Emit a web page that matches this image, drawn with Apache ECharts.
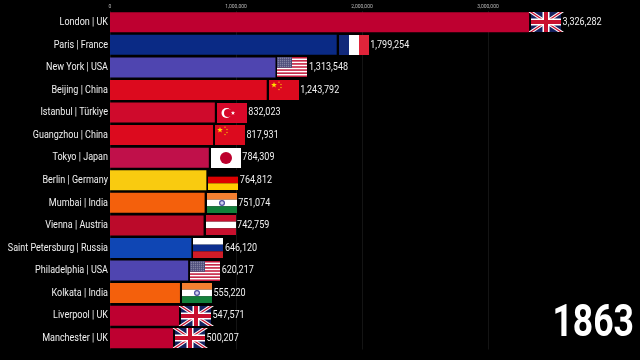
<!DOCTYPE html>
<html><head><meta charset="utf-8">
<style>html,body{margin:0;padding:0;background:#000}#c{width:640px;height:360px}</style>
<script src="https://cdn.jsdelivr.net/npm/echarts@6/dist/echarts.min.js"></script>
</head><body><div id="c"></div>
<script>
const cities = ['London | UK','Paris | France','New York | USA','Beijing | China','Istanbul | Türkiye','Guangzhou | China','Tokyo | Japan','Berlin | Germany','Mumbai | India','Vienna | Austria','Saint Petersburg | Russia','Philadelphia | USA','Kolkata | India','Liverpool | UK','Manchester | UK'];
const values = [3326282,1799254,1313548,1243792,832023,817931,784309,764812,751074,742759,646120,620217,555220,547571,500207];
const flagsOf = ['UK','FR','US','CN','TR','CN','JP','DE','IN','AT','RU','US','IN','UK','UK'];
const barColors = ['#be0030','#0a2a85','#4f45b0','#dc0a1e','#cf0a2c','#dc0a1e','#c0104a','#f9cb10','#f4600c','#bb0a2a','#0f46b4','#4f45b0','#f4600c','#be0030','#be0030'];
const year = '1863';
const tickInterval = 1000000;
const axisMax = 3990000;

const W = 30, H = 20;
const R = (x,y,w,h,fill)=>({type:'rect',shape:{x,y,width:w,height:h},style:{fill}});
const C = (cx,cy,r,fill)=>({type:'circle',shape:{cx,cy,r},style:{fill}});
const P = (points,fill)=>({type:'polygon',shape:{points},style:{fill}});
const star = (cx,cy,r,fill)=>{
  const pts=[];
  for(let i=0;i<10;i++){const a=-Math.PI/2+i*Math.PI/5,q=i%2?r*0.42:r;pts.push([cx+q*Math.cos(a),cy+q*Math.sin(a)]);}
  return P(pts,fill);
};
const hbands = (cols)=>cols.map((c,i)=>R(0,i*H/cols.length,W,H/cols.length,c));
const vbands = (cols)=>cols.map((c,i)=>R(i*W/cols.length,0,W/cols.length,H,c));
function flag(code){
  if(code==='FR') return vbands(['#12297a','#ffffff','#e0243a']);
  if(code==='DE') return hbands(['#000000','#dd0000','#ffce00']);
  if(code==='AT') return hbands(['#c8102e','#ffffff','#c8102e']);
  if(code==='RU') return hbands(['#ffffff','#0c2f8f','#d01c27']);
  if(code==='JP') return [R(0,0,W,H,'#ffffff'),C(15,10,6,'#bc002d')];
  if(code==='IN') return hbands(['#f47f30','#ffffff','#12803a']).concat([C(15,10,3,'#4a4a9e'),C(15,10,1.8,'#d0d0ee')]);
  if(code==='CN') return [R(0,0,W,H,'#dc0a1e'),star(5,5,3,'#ffde00'),star(10,2.2,1,'#ffde00'),star(12,4.5,1,'#ffde00'),star(12,7.5,1,'#ffde00'),star(10,9.5,1,'#ffde00')];
  if(code==='TR') return [R(0,0,W,H,'#d8082a'),C(9.5,10,5,'#ffffff'),C(11,10,4,'#d8082a'),star(16,10,2.2,'#ffffff')];
  if(code==='US'){
    const out=[R(0,0,W,H,'#ffffff')];
    for(let i=0;i<7;i++) out.push(R(0,i*2*H/13,W,H/13,'#c3183a'));
    out.push(R(0,0,15,H*7/13,'#4a4a78'));
    for(let r=0;r<5;r++) for(let c=0;c<7;c++) out.push(R(0.8+c*2,0.7+r*2,1,1,'#a8a8c0'));
    return out;
  }
  const d=(x1,y1,x2,y2,t,fill)=>P([[x1-t,y1],[x1+t,y1],[x2+t,y2],[x2-t,y2]],fill);
  return [R(0,0,W,H,'#14205e'),
    d(0,0,W,H,3,'#ffffff'),d(W,0,0,H,3,'#ffffff'),
    d(0,0,W,H,1.1,'#c8102e'),d(W,0,0,H,1.1,'#c8102e'),
    R(0,6.5,W,7,'#ffffff'),R(11.5,0,7,H,'#ffffff'),
    R(0,8,W,4,'#c8102e'),R(13,0,4,H,'#c8102e')];
}
const fmt = v=>v.toLocaleString('en-US');
const font = 'Roboto';
const narrow = 0.82;
const txt = (x,y,text,align)=>({type:'text',x,y,scaleX:narrow,
  style:{text,fill:'#f0f0f0',font:'11px '+font,align,verticalAlign:'middle'}});

const chart = echarts.init(document.getElementById('c'),null,{renderer:'canvas'});
chart.setOption({
  backgroundColor:'#000000',
  animation:false,
  graphic:[{type:'text',x:634,y:325,scaleX:0.79,
    style:{text:year,fill:'#ffffff',font:'bold 45px Roboto',align:'right',verticalAlign:'middle'}}],
  grid:{left:110,right:27.3,top:11,bottom:10.5,outerBoundsMode:'none'},
  xAxis:{type:'value',position:'top',min:0,max:axisMax,interval:tickInterval,
    axisLine:{show:false},axisTick:{show:false},
    splitLine:{show:true,showMaxLine:false,lineStyle:{color:'#141414',width:1}},
    axisLabel:{color:'#b8b8b8',fontSize:5,fontFamily:'Roboto',margin:2,showMaxLabel:false,formatter:v=>fmt(v)}},
  yAxis:{type:'category',inverse:true,data:cities,
    axisLine:{show:false},axisTick:{show:false},axisLabel:{show:false}},
  series:[
    {type:'bar',barWidth:20,data:values.map((v,i)=>({value:v,itemStyle:{color:barColors[i]}}))},
    {type:'custom',clip:false,data:values.map((v,i)=>[v,i]),encode:{x:0,y:1},
     renderItem:(params,api)=>{
       const i=params.dataIndex;
       const pt=api.coord([api.value(0),api.value(1)]);
       const zero=api.coord([0,api.value(1)]);
       return {type:'group',children:[
         {type:'group',x:Math.round(pt[0])+2,y:Math.round(pt[1]-H/2),children:flag(flagsOf[i])},
         txt(zero[0]-2,pt[1],cities[i],'right'),
         txt(pt[0]+33.5,pt[1],fmt(values[i]),'left')
       ]};
     }}
  ]
});
</script></body></html>
